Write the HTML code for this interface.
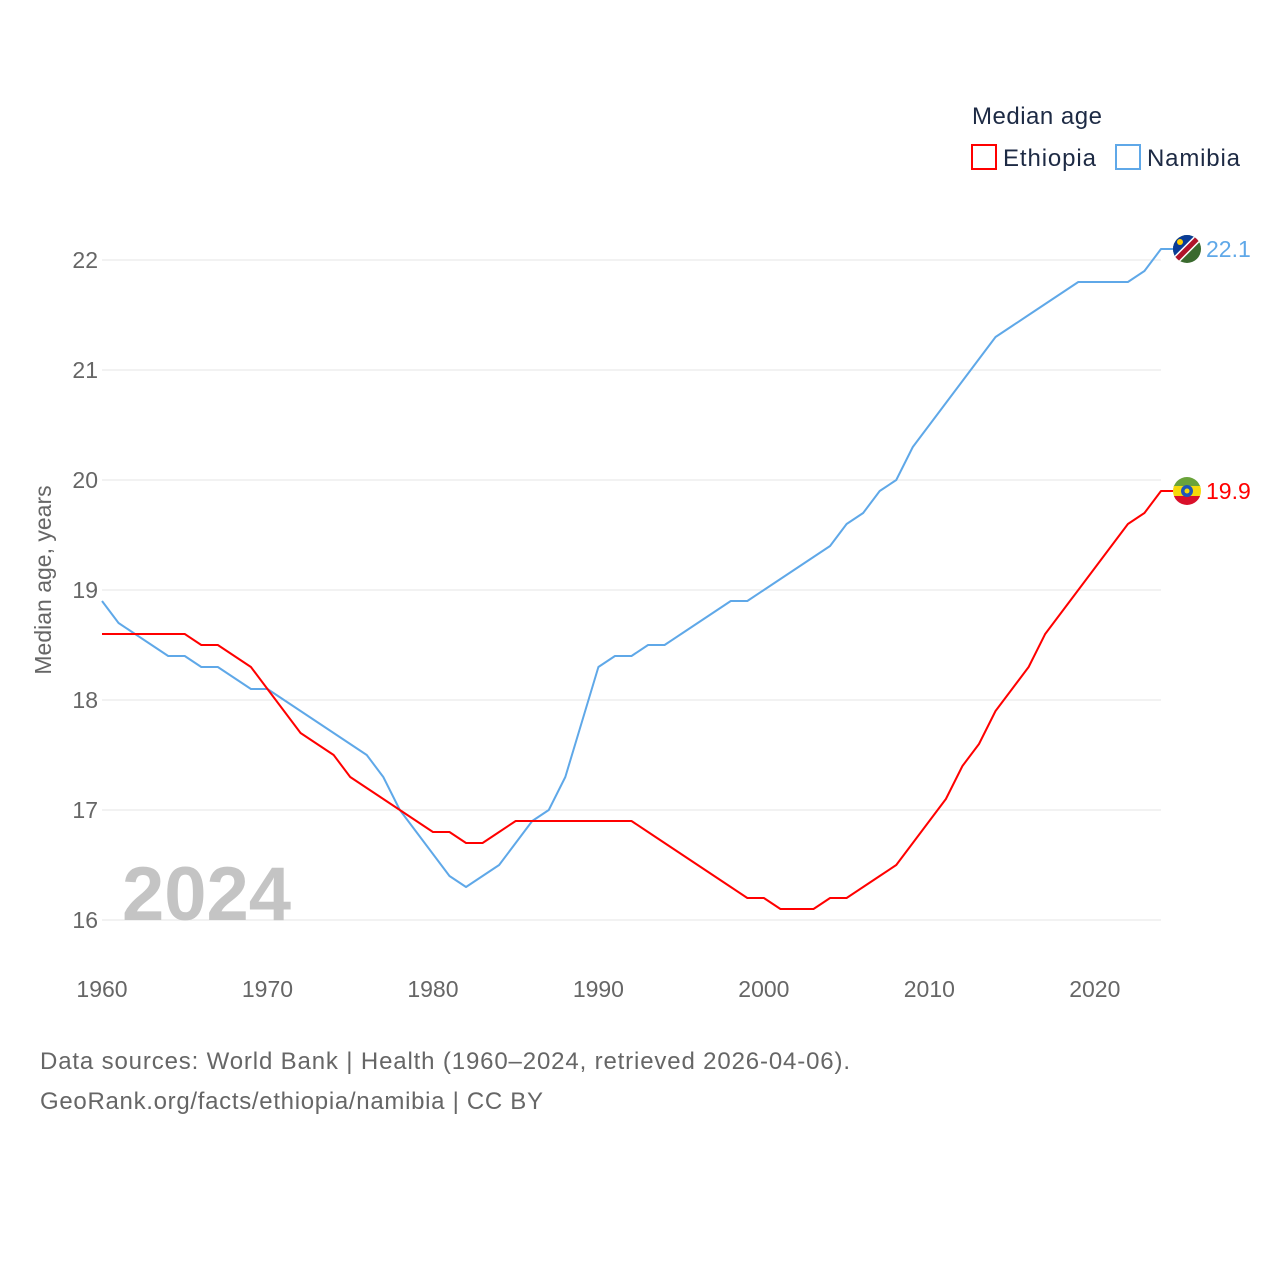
<!DOCTYPE html>
<html><head><meta charset="utf-8"><style>
body{margin:0;background:#fff;font-family:"Liberation Sans",sans-serif}
svg text{font-family:"Liberation Sans",sans-serif}
</style></head><body>
<svg id="chart" width="1280" height="1280" viewBox="0 0 1280 1280">
<g id="grid"></g><g id="axes"></g><g id="series"></g>
<text x="122" y="920" font-size="76" font-weight="bold" fill="#c4c4c4">2024</text>
<text transform="translate(51,580) rotate(-90)" text-anchor="middle" font-size="23" fill="#666">Median age, years</text>
<text x="972" y="124" font-size="24" fill="#1d2a44" textLength="130">Median age</text>
<g><rect x="972" y="145" width="24" height="24" fill="none" stroke="#f00" stroke-width="2"/><text x="1003" y="166" font-size="24" fill="#1d2a44" textLength="93">Ethiopia</text></g>
<g><rect x="1116" y="145" width="24" height="24" fill="none" stroke="#5fa8e8" stroke-width="2"/><text x="1147" y="166" font-size="24" fill="#1d2a44" textLength="93">Namibia</text></g>
<text x="40" y="1069" font-size="24" fill="#666" textLength="810">Data sources: World Bank | Health (1960–2024, retrieved 2026-04-06).</text>
<text x="40" y="1109" font-size="24" fill="#666" textLength="503">GeoRank.org/facts/ethiopia/namibia | CC BY</text>
</svg>
<script>
const years=[];for(let y=1960;y<=2024;y++)years.push(y);
const ethiopia=[18.6,18.6,18.6,18.6,18.6,18.6,18.5,18.5,18.4,18.3,18.1,17.9,17.7,17.6,17.5,17.3,17.2,17.1,17.0,16.9,16.8,16.8,16.7,16.7,16.8,16.9,16.9,16.9,16.9,16.9,16.9,16.9,16.9,16.8,16.7,16.6,16.5,16.4,16.3,16.2,16.2,16.1,16.1,16.1,16.2,16.2,16.3,16.4,16.5,16.7,16.9,17.1,17.4,17.6,17.9,18.1,18.3,18.6,18.8,19.0,19.2,19.4,19.6,19.7,19.9];
const namibia=[18.9,18.7,18.6,18.5,18.4,18.4,18.3,18.3,18.2,18.1,18.1,18.0,17.9,17.8,17.7,17.6,17.5,17.3,17.0,16.8,16.6,16.4,16.3,16.4,16.5,16.7,16.9,17.0,17.3,17.8,18.3,18.4,18.4,18.5,18.5,18.6,18.7,18.8,18.9,18.9,19.0,19.1,19.2,19.3,19.4,19.6,19.7,19.9,20.0,20.3,20.5,20.7,20.9,21.1,21.3,21.4,21.5,21.6,21.7,21.8,21.8,21.8,21.8,21.9,22.1];
const yTicks=[16,17,18,19,20,21,22];
const xTicks=[1960,1970,1980,1990,2000,2010,2020];
const NS="http://www.w3.org/2000/svg";
const xs=y=>102+(y-1960)*(1161-102)/64;
const ys=v=>920-(v-16)*110;
function mk(tag,attrs,parent){const e=document.createElementNS(NS,tag);for(const k in attrs)e.setAttribute(k,attrs[k]);document.getElementById(parent).appendChild(e);return e;}
yTicks.forEach(t=>{
  const l=mk('line',{x1:102,x2:1161,y1:ys(t),y2:ys(t),stroke:'#e6e6e6','stroke-width':1},'grid');
  
  
  const tx=mk('text',{x:98,y:ys(t)+8,'text-anchor':'end','font-size':23,fill:'#666'},'axes');
  tx.textContent=t;
  
  
});
xTicks.forEach(t=>{
  const tx=mk('text',{x:xs(t),y:997,'text-anchor':'middle','font-size':23,fill:'#666'},'axes');
  tx.textContent=t;
  
  
});
function line(data,color,name){
  const pts=data.map((v,i)=>xs(years[i])+','+ys(data[i]));
  pts.push((xs(2024)+12)+','+ys(data[data.length-1]));
  const p=mk('polyline',{points:pts.join(' '),fill:'none',stroke:color,'stroke-width':2,'stroke-linejoin':'round'},'series');
  
  
}
line(namibia,'#5fa8e8','namibia-line');
line(ethiopia,'#f00','ethiopia-line');
function endLabel(data,color,name,flag){
  const v=data[data.length-1],y=ys(v),x=xs(2024);
  const g=mk('g',{},'series');
  
  
  const c=document.createElementNS(NS,'g');g.appendChild(c);
  c.innerHTML=flag(x+26,y);
  const t=document.createElementNS(NS,'text');
  t.setAttribute('x',x+45);t.setAttribute('y',y+8);t.setAttribute('font-size',23);t.setAttribute('fill',color);
  t.textContent=v.toFixed(1);g.appendChild(t);
}
endLabel(namibia,'#5fa8e8','namibia',(cx,cy)=>`<clipPath id="cn"><circle cx="${cx}" cy="${cy}" r="14"/></clipPath><g clip-path="url(#cn)"><rect x="${cx-14}" y="${cy-14}" width="28" height="28" fill="#3a6a2e"/><polygon points="${cx-14},${cy-14} ${cx+14},${cy-14} ${cx-14},${cy+14}" fill="#0a3c96"/><line x1="${cx+14}" y1="${cy-14}" x2="${cx-14}" y2="${cy+14}" stroke="#fff" stroke-width="8"/><line x1="${cx+14}" y1="${cy-14}" x2="${cx-14}" y2="${cy+14}" stroke="#b0132a" stroke-width="5"/><circle cx="${cx-7}" cy="${cy-7}" r="3" fill="#ffce00"/></g>`);
endLabel(ethiopia,'#f00','ethiopia',(cx,cy)=>`<clipPath id="ce"><circle cx="${cx}" cy="${cy}" r="14"/></clipPath><g clip-path="url(#ce)"><rect x="${cx-14}" y="${cy-14}" width="28" height="10" fill="#6aa33a"/><rect x="${cx-14}" y="${cy-5}" width="28" height="10" fill="#f5d90a"/><rect x="${cx-14}" y="${cy+5}" width="28" height="10" fill="#d9102a"/><circle cx="${cx}" cy="${cy}" r="6" fill="#1f55b8"/><circle cx="${cx}" cy="${cy}" r="2.5" fill="#f5d90a"/></g>`);
</script>
</body></html>
